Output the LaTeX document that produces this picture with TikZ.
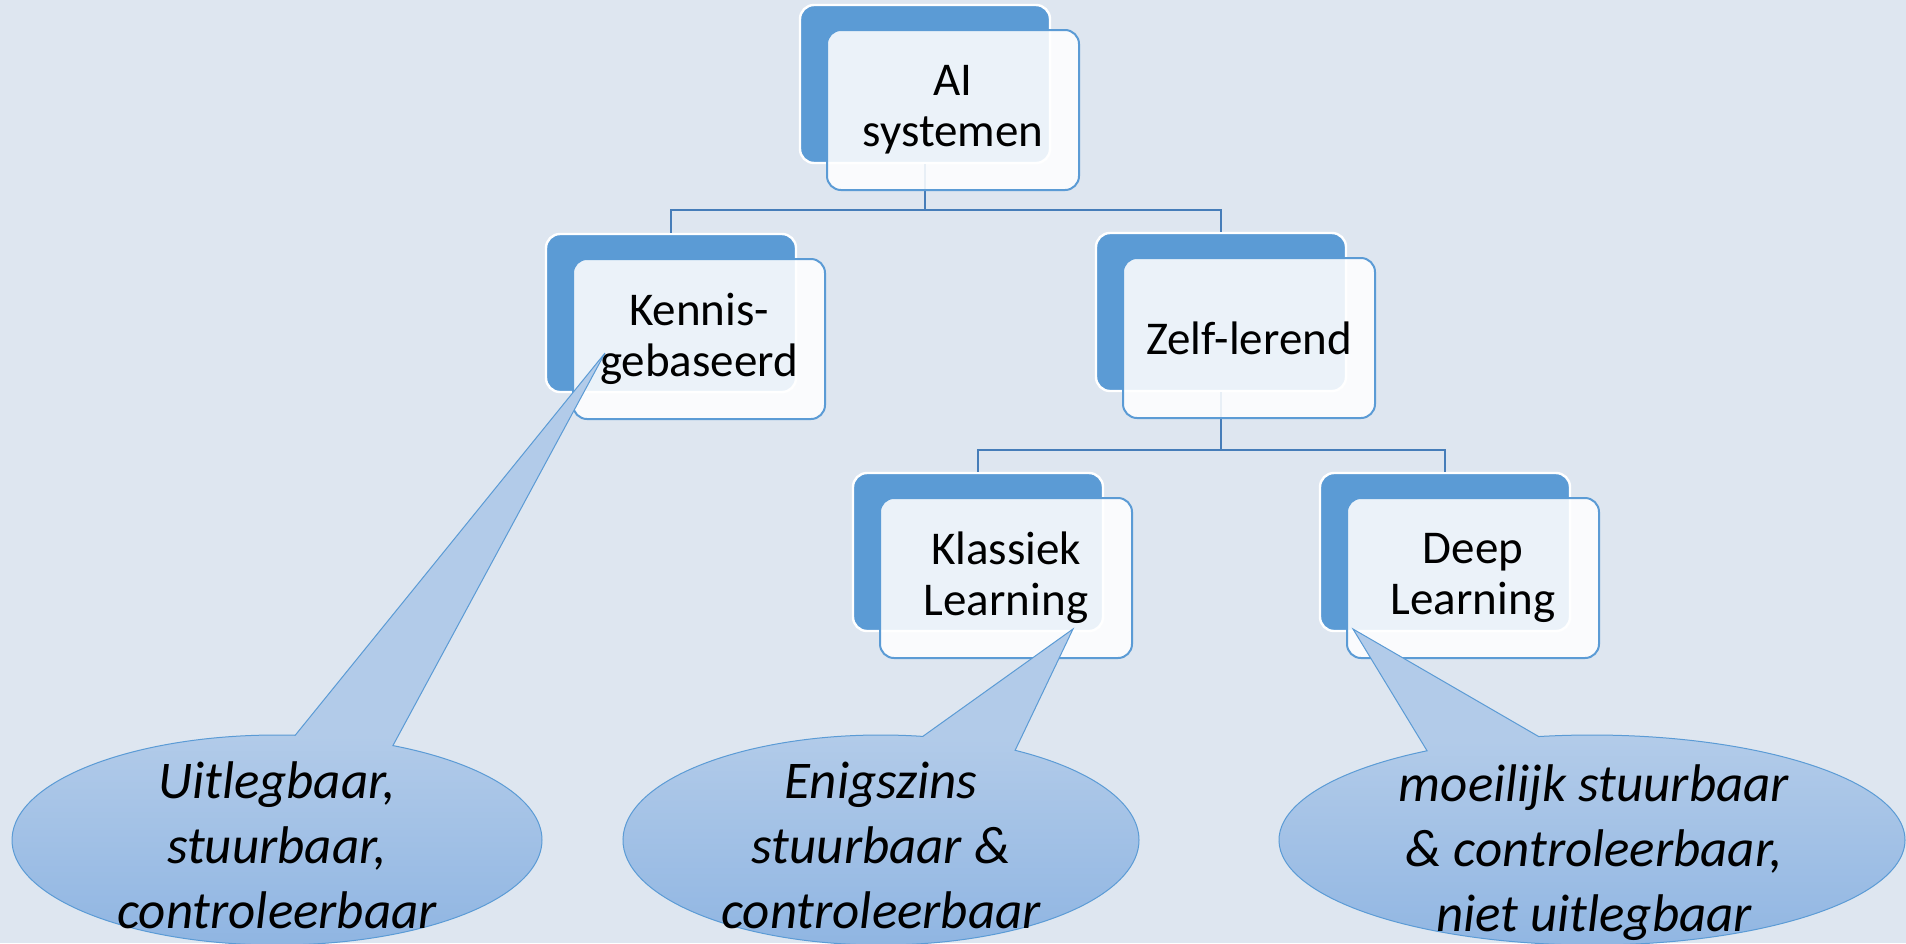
\documentclass[tikz,border=0pt]{standalone}
\usepackage{fontspec}
\setmainfont{Carlito}
\usetikzlibrary{shapes.callouts,calc}

\definecolor{bgblue}{RGB}{222,230,240}
\definecolor{boxblue}{RGB}{91,155,213}
\definecolor{linkblue}{RGB}{70,125,185}
\definecolor{balltop}{RGB}{178,203,233}
\definecolor{ballbot}{RGB}{143,181,226}

% the gradient only runs over the ellipse, the pointer stays light
\pgfdeclareverticalshading{tallball}{100bp}{color(0bp)=(ballbot); color(25bp)=(ballbot);
	color(42.8bp)=(balltop); color(100bp)=(balltop)}
\pgfdeclareverticalshading{lowball}{100bp}{color(0bp)=(ballbot); color(25bp)=(ballbot);
	color(58.2bp)=(balltop); color(100bp)=(balltop)}

\tikzset{
	backbox/.style={draw=white, line width=1.2pt, fill=boxblue, rounded corners=7pt,
		minimum width=125pt, minimum height=79pt},
	frontbox/.style={draw=boxblue, line width=1pt, fill=white, fill opacity=0.88, text opacity=1,
		rounded corners=7pt, minimum width=126pt, minimum height=80pt, align=center,
		font=\fontsize{23.5}{25.5}\selectfont},
	link/.style={draw=linkblue, line width=1pt},
	balloon/.style={ellipse callout, draw=boxblue, line width=0.5pt, shade,
		callout pointer arc=22, minimum height=105pt, inner sep=0pt},
	balltext/.style={align=center, font=\fontsize{26.5}{32.5}\selectfont\itshape},
}

\begin{document}
\begin{tikzpicture}[x=0.5pt,y=-0.5pt]
	\fill[bgblue] (0,0) rectangle (1906,943);
	\useasboundingbox (0,0) rectangle (1906,943);
	% back plates
	\node[backbox] (aiB) at (925,84) {};
	\node[backbox] (kenB) at (671,313) {};
	\node[backbox] (zelfB) at (1221,312) {};
	\node[backbox] (klasB) at (978,552) {};
	\node[backbox] (deepB) at (1445,552) {};
	% tree lines
	\draw[link] (aiB.south) -- ++(0,46) -| (kenB.north);
	\draw[link] (aiB.south) -- ++(0,46) -| (zelfB.north);
	\draw[link] (zelfB.south) -- ++(0,58) -| (klasB.north);
	\draw[link] (zelfB.south) -- ++(0,58) -| (deepB.north);
	% front cards
	\node[frontbox] (ai) at ($(aiB)+(28,26)$) {AI\\systemen};
	\node[frontbox] (ken) at ($(kenB)+(28,26)$) {Kennis-\\gebaseerd};
	\node[frontbox] (zelf) at ($(zelfB)+(28,26)$) {Zelf-lerend};
	\node[frontbox] (klas) at ($(klasB)+(28,26)$) {Klassiek\\Learning};
	\node[frontbox] (deep) at ($(deepB)+(28,26)$) {Deep\\Learning};
	% balloons
	\coordinate (kenTip) at (605,353);
	\coordinate (klasTip) at (1073,629);
	\coordinate (deepTip) at (1353,629);
	\node[balloon, shading=tallball, callout absolute pointer={(kenTip)},
		minimum width=265pt] (kenCall) at (277,840) {};
	\node[balloon, shading=lowball, callout absolute pointer={(klasTip)},
		minimum width=258pt] (klasCall) at (881,840) {};
	\node[balloon, shading=lowball, callout absolute pointer={(deepTip)},
		minimum width=313pt] (deepCall) at (1592,840) {};
	\node[balltext] (kenTxt) at (277,845) {Uitlegbaar,\\stuurbaar,\\controleerbaar};
	\node[balltext] (klasTxt) at (881,845) {Enigszins\\stuurbaar \&\\controleerbaar};
	\node[balltext] (deepTxt) at (1594,853) {moeilijk stuurbaar\\\& controleerbaar,\\niet uitlegbaar};
\end{tikzpicture}
\end{document}
